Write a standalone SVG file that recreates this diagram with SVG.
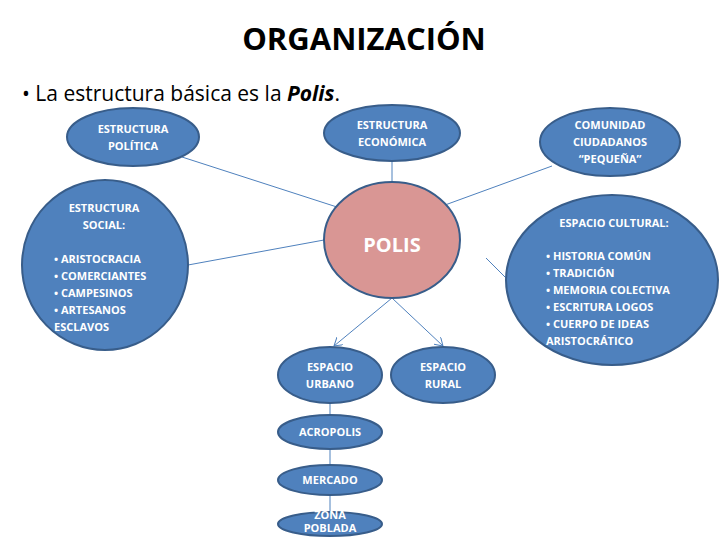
<svg xmlns="http://www.w3.org/2000/svg" width="728" height="546" viewBox="0 0 728 546">
<style>
.n{fill:#4f81bd;stroke:#385d8a;stroke-width:2}
.p{fill:#d99694;stroke:#385d8a;stroke-width:2}
.t{font-family:"Open Sans","Liberation Sans",sans-serif;font-weight:bold;fill:#fff;font-size:11px}
.c{text-anchor:middle}
.l{stroke:#4f81bd;stroke-width:1;fill:none}
</style>
<defs><marker id="a" markerWidth="10" markerHeight="10" refX="8" refY="5" orient="auto" markerUnits="userSpaceOnUse"><path d="M0,0 L8,5 L0,10" fill="none" stroke="#4f81bd" stroke-width="1"/></marker></defs>
<rect width="728" height="546" fill="#fff"/>
<text x="364" y="50" text-anchor="middle" font-family="'Open Sans','Liberation Sans',sans-serif" font-weight="bold" font-size="31" fill="#000">ORGANIZACIÓN</text>
<text x="22" y="101" font-family="'Open Sans','Liberation Sans',sans-serif" font-size="21" fill="#000">• La estructura básica es la <tspan font-weight="bold" font-style="italic">Polis</tspan>.</text>
<g id="connectors">
<line class="l" x1="182" y1="157" x2="340" y2="208"/>
<line class="l" x1="392" y1="161" x2="392" y2="182"/>
<line class="l" x1="552" y1="166" x2="445" y2="205"/>
<line class="l" x1="188" y1="265" x2="324" y2="240"/>
<line class="l" x1="486" y1="258" x2="508" y2="280"/>
<line class="l" x1="392" y1="298" x2="334" y2="346" marker-end="url(#a)"/>
<line class="l" x1="392" y1="298" x2="443" y2="346" marker-end="url(#a)"/>
<line class="l" x1="330" y1="403" x2="330" y2="415"/>
<line class="l" x1="330" y1="449" x2="330" y2="465"/>
<line class="l" x1="330" y1="495" x2="330" y2="512"/>
</g>
<g id="politica"><ellipse class="n" cx="133" cy="137" rx="66" ry="29"/><text class="t c" x="133" y="133">ESTRUCTURA</text><text class="t c" x="133" y="150">POLÍTICA</text></g>
<g id="economica"><ellipse class="n" cx="392" cy="133" rx="68" ry="28"/><text class="t c" x="392" y="129">ESTRUCTURA</text><text class="t c" x="392" y="146">ECONÓMICA</text></g>
<g id="comunidad"><ellipse class="n" cx="610" cy="142" rx="70" ry="34"/><text class="t c" x="610" y="129">COMUNIDAD</text><text class="t c" x="610" y="146">CIUDADANOS</text><text class="t c" x="610" y="163">“PEQUEÑA”</text></g>
<g id="social"><ellipse class="n" cx="105" cy="265" rx="83" ry="85"/>
<text class="t c" x="104" y="212">ESTRUCTURA</text><text class="t c" x="104" y="229">SOCIAL:</text>
<text class="t" x="54" y="263">• ARISTOCRACIA</text><text class="t" x="54" y="280">• COMERCIANTES</text><text class="t" x="54" y="297">• CAMPESINOS</text><text class="t" x="54" y="314">• ARTESANOS</text><text class="t" x="54" y="331">ESCLAVOS</text></g>
<g id="polis"><ellipse class="p" cx="392" cy="240" rx="68" ry="58"/><text class="c" x="392" y="252" font-family="'Open Sans','Liberation Sans',sans-serif" font-weight="bold" font-size="20" fill="#fff">POLIS</text></g>
<g id="cultural"><ellipse class="n" cx="612" cy="280" rx="106" ry="85"/>
<text class="t c" x="614" y="227">ESPACIO CULTURAL:</text>
<text class="t" x="546" y="260">• HISTORIA COMÚN</text><text class="t" x="546" y="277">• TRADICIÓN</text><text class="t" x="546" y="294">• MEMORIA COLECTIVA</text><text class="t" x="546" y="311">• ESCRITURA LOGOS</text><text class="t" x="546" y="328">• CUERPO DE IDEAS</text><text class="t" x="546" y="345">ARISTOCRÁTICO</text></g>
<g id="urbano"><ellipse class="n" cx="330" cy="375" rx="52" ry="28"/><text class="t c" x="330" y="371">ESPACIO</text><text class="t c" x="330" y="388">URBANO</text></g>
<g id="rural"><ellipse class="n" cx="443" cy="375" rx="52" ry="28"/><text class="t c" x="443" y="371">ESPACIO</text><text class="t c" x="443" y="388">RURAL</text></g>
<g id="acropolis"><ellipse class="n" cx="330" cy="432" rx="52" ry="17"/><text class="t c" x="330" y="436" font-size="9.5">ACROPOLIS</text></g>
<g id="mercado"><ellipse class="n" cx="330" cy="480" rx="52" ry="15"/><text class="t c" x="330" y="484" font-size="9.5">MERCADO</text></g>
<g id="zona"><ellipse class="n" cx="330" cy="524" rx="52" ry="12"/><text class="t c" x="330" y="519" font-size="7.5">ZONA</text><text class="t c" x="330" y="532" font-size="7.5">POBLADA</text></g>
</svg>
